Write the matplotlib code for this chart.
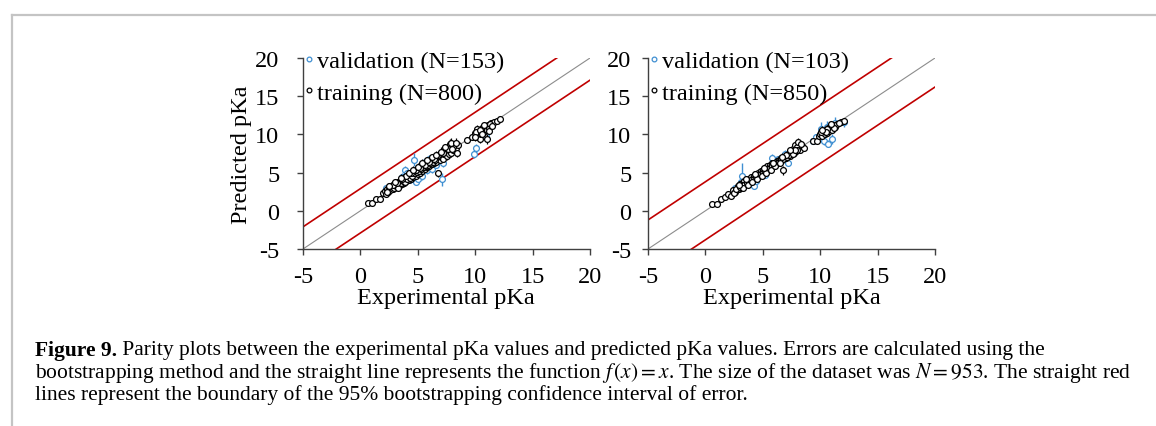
import matplotlib
matplotlib.use("Agg")
import matplotlib.pyplot as plt
from matplotlib.lines import Line2D

plt.rcParams['font.family'] = ['Liberation Serif', 'DejaVu Serif']
plt.rcParams['mathtext.fontset'] = 'stix'
plt.rcParams['axes.unicode_minus'] = False

# ---- data ----
# left panel, training (N=800)
train_x_a = [0.7, 1.0, 1.4, 1.7, 2.0, 2.1, 2.2, 2.3, 2.4, 2.5, 2.6, 2.7, 2.8, 2.9, 3.0, 3.1, 3.2, 3.3, 3.4, 3.5,
             3.6, 3.7, 3.8, 3.9, 4.0, 4.1, 4.2, 4.3, 4.4, 4.5, 4.6, 4.7, 4.8, 4.9, 5.0, 5.1, 5.2, 5.3, 5.4, 5.5,
             5.6, 5.7, 5.8, 5.9, 6.0, 6.1, 6.2, 6.3, 6.4, 6.5, 6.6, 6.8, 6.7, 6.9, 7.0, 7.2, 7.3, 7.5, 7.6, 7.7,
             7.8, 7.9, 8.0, 8.1, 8.2, 8.3, 8.4, 8.5, 9.3, 9.7, 10.0, 10.1, 10.2, 10.3, 10.4, 10.5, 10.6, 10.7, 10.8, 10.9,
             11.0, 11.0, 11.1, 11.2, 11.4, 11.6, 11.9, 12.2,
             2.3, 2.6, 2.9, 3.1, 3.3, 3.5, 3.7, 3.9, 4.1, 4.3, 4.5, 4.7, 4.9, 5.1, 5.3, 5.5, 5.7, 5.9, 6.1, 6.3,
             6.5, 6.8, 7.1, 7.4, 7.8, 8.1, 10.1, 10.5, 11.3,
             2.8, 3.2, 3.6, 4.0, 4.4, 4.8, 5.2, 5.6, 6.0, 6.4, 7.2, 7.6, 8.0, 10.4, 10.8,
             2.5, 3.0, 3.5, 4.2, 4.6, 5.0, 5.4, 5.8, 6.2, 6.6, 7.0, 7.4, 7.9, 8.3, 10.0, 10.6, 11.2, 11.5]
train_y_a = [1.0, 1.0, 1.6, 1.5, 2.3, 2.6, 2.2, 2.9, 2.5, 3.1, 2.7, 3.3, 2.9, 3.5, 3.1, 3.6, 3.2, 3.8, 3.3, 4.0,
             3.5, 4.2, 3.7, 4.4, 3.9, 4.5, 4.0, 4.7, 4.2, 5.0, 4.4, 5.2, 4.6, 5.4, 4.8, 5.6, 5.0, 5.9, 5.2, 6.0,
             5.5, 6.2, 5.7, 6.4, 5.9, 6.5, 6.1, 6.7, 6.2, 6.9, 6.4, 4.9, 6.9, 6.6, 7.1, 6.8, 7.4, 7.2, 7.8, 7.4,
             8.2, 7.6, 8.5, 7.9, 8.8, 8.2, 7.6, 8.6, 9.3, 9.6, 10.2, 9.7, 10.7, 10.0, 9.4, 10.5, 10.9, 10.2, 10.8, 11.0,
             9.4, 10.6, 11.2, 10.9, 11.5, 11.6, 11.8, 12.0,
             2.4, 3.2, 3.0, 3.3, 3.0, 3.6, 3.9, 3.8, 4.2, 4.3, 4.6, 4.9, 5.1, 5.2, 5.5, 5.7, 5.9, 6.0, 6.3, 6.4,
             6.6, 7.3, 7.6, 8.0, 8.8, 8.3, 10.3, 10.1, 11.3,
             3.4, 3.7, 4.1, 4.5, 4.9, 5.3, 5.6, 6.0, 6.4, 6.8, 7.6, 8.1, 8.1, 10.6, 11.2,
             3.3, 3.8, 4.3, 4.9, 5.4, 5.7, 6.3, 6.6, 7.0, 7.3, 7.7, 8.3, 8.9, 8.9, 9.6, 10.1, 10.5, 11.1]
train_e_a = [0.2, 0.2, 0.3, 0.2, 0.3, 0.3, 0.3, 0.3, 0.4, 0.3, 0.3, 0.4, 0.3, 0.4, 0.3, 0.4, 0.3, 0.4, 0.3, 0.4,
             0.3, 0.4, 0.3, 0.5, 0.3, 0.4, 0.3, 0.4, 0.3, 0.5, 0.3, 0.4, 0.3, 0.5, 0.4, 0.4, 0.3, 0.5, 0.4, 0.4,
             0.4, 0.5, 0.3, 0.5, 0.4, 0.4, 0.4, 0.5, 0.4, 0.5, 0.4, 0.5, 0.4, 0.4, 0.5, 0.4, 0.4, 0.5, 0.6, 0.4,
             0.6, 0.5, 0.6, 0.5, 0.5, 0.6, 0.5, 0.5, 0.3, 0.3, 0.5, 0.4, 0.5, 0.4, 0.5, 0.4, 0.5, 0.4, 0.5, 0.4,
             0.6, 0.4, 0.4, 0.4, 0.3, 0.3, 0.3, 0.3,
             0.3, 0.4, 0.3, 0.4, 0.3, 0.4, 0.4, 0.3, 0.4, 0.3, 0.4, 0.4, 0.4, 0.3, 0.4, 0.4, 0.4, 0.3, 0.4, 0.4,
             0.4, 0.5, 0.5, 0.5, 0.6, 0.5, 0.4, 0.4, 0.3,
             0.4, 0.4, 0.4, 0.4, 0.4, 0.4, 0.4, 0.4, 0.4, 0.5, 0.5, 0.5, 0.6, 0.4, 0.4,
             0.4, 0.4, 0.5, 0.5, 0.5, 0.5, 0.5, 0.5, 0.5, 0.5, 0.6, 0.5, 0.6, 0.6, 0.5, 0.5, 0.5, 0.4]

# left panel, validation (N=153)
val_x_a = [2.2, 3.0, 3.6, 3.9, 4.1, 4.4, 4.7, 4.8, 5.0, 5.4, 5.6, 5.8, 6.0, 6.2, 6.6, 7.1, 7.2, 9.9, 10.1, 10.9]
val_y_a = [3.0, 3.6, 4.4, 5.3, 5.0, 4.1, 6.7, 3.8, 4.2, 4.5, 6.4, 5.3, 6.8, 5.5, 6.0, 4.1, 6.3, 7.4, 8.2, 9.8]
val_e_a = [0.3, 0.4, 0.5, 0.6, 0.5, 0.4, 0.9, 0.4, 0.4, 0.5, 0.5, 0.5, 0.5, 0.5, 0.4, 0.9, 0.6, 0.5, 0.6, 0.6]

# right panel, training (N=850)
train_x_b = [0.6, 1.0, 1.4, 1.7, 2.0, 2.2, 2.4, 2.6, 2.8, 2.9, 3.0, 3.1, 3.2, 3.3, 3.4, 3.5, 3.6, 3.7, 3.8, 3.9,
             4.0, 4.1, 4.2, 4.3, 4.4, 4.5, 4.6, 4.7, 4.8, 4.9, 5.0, 5.1, 5.2, 5.3, 5.4, 5.5, 5.6, 5.7, 5.8, 5.9,
             6.0, 6.1, 6.2, 6.3, 6.4, 6.5, 6.6, 6.7, 6.8, 6.9, 7.0, 7.2, 7.4, 7.5, 7.6, 7.7, 7.8, 7.9, 8.0, 8.1,
             8.2, 8.4, 8.6, 9.4, 9.7, 9.9, 10.0, 10.2, 10.3, 10.4, 10.5, 10.6, 10.7, 10.8, 10.9, 11.0, 11.1, 11.3, 11.5, 11.8,
             12.1,
             2.5, 2.7, 3.0, 3.2, 3.4, 3.6, 3.8, 4.0, 4.2, 4.4, 4.6, 4.8, 5.0, 5.2, 5.4, 5.6, 5.8, 6.0, 6.2, 6.4,
             6.6, 6.8, 7.1, 7.3, 7.6, 8.0, 10.1, 10.6,
             3.3, 3.7, 4.1, 4.5, 4.9, 5.3, 5.7, 6.1, 6.5, 7.0, 7.8, 10.5, 11.2,
             2.9, 3.5, 4.3, 5.1, 5.9, 6.7, 7.4, 8.3, 10.2, 10.9, 11.6]
train_y_b = [0.9, 0.9, 1.5, 1.8, 2.2, 2.0, 2.7, 2.5, 3.2, 2.8, 3.5, 3.0, 3.7, 3.3, 3.9, 3.5, 4.0, 3.7, 4.2, 3.9,
             4.4, 4.1, 4.6, 4.3, 4.8, 4.5, 5.0, 4.7, 5.2, 4.9, 5.4, 5.1, 5.6, 5.3, 5.8, 5.5, 6.0, 5.7, 6.2, 5.9,
             6.3, 6.1, 6.5, 6.3, 6.7, 6.5, 6.9, 6.7, 5.3, 7.1, 6.9, 7.4, 7.2, 7.7, 8.1, 7.6, 8.6, 7.8, 8.3, 9.0,
             8.0, 8.5, 8.2, 9.1, 9.2, 9.8, 10.1, 9.8, 10.4, 10.0, 10.6, 10.2, 10.9, 10.5, 11.0, 10.6, 11.2, 11.0, 11.3, 11.6,
             11.8,
             2.3, 2.9, 3.1, 3.4, 3.4, 3.6, 3.8, 4.0, 4.2, 4.4, 4.6, 4.8, 5.0, 5.2, 5.4, 5.6, 5.8, 6.0, 6.2, 6.4,
             6.6, 6.8, 7.0, 7.3, 7.5, 7.9, 10.3, 10.7,
             3.0, 3.4, 3.8, 4.2, 4.6, 5.0, 5.4, 5.8, 6.2, 7.3, 8.0, 10.3, 10.9,
             3.4, 4.1, 4.8, 5.6, 6.3, 7.1, 7.9, 8.7, 10.6, 11.3, 11.5]
train_e_b = [0.2, 0.2, 0.3, 0.3, 0.3, 0.3, 0.3, 0.3, 0.4, 0.3, 0.4, 0.3, 0.4, 0.3, 0.4, 0.3, 0.4, 0.3, 0.4, 0.3,
             0.4, 0.3, 0.5, 0.3, 0.4, 0.3, 0.5, 0.3, 0.4, 0.3, 0.5, 0.3, 0.4, 0.3, 0.5, 0.4, 0.4, 0.3, 0.5, 0.3,
             0.4, 0.3, 0.4, 0.3, 0.5, 0.4, 0.4, 0.3, 0.6, 0.4, 0.4, 0.4, 0.4, 0.5, 0.6, 0.4, 0.5, 0.4, 0.5, 0.5,
             0.4, 0.4, 0.4, 0.4, 0.4, 0.4, 0.5, 0.4, 0.5, 0.4, 0.5, 0.4, 0.4, 0.4, 0.5, 0.4, 0.4, 0.4, 0.4, 0.3,
             0.4,
             0.3, 0.3, 0.3, 0.3, 0.3, 0.3, 0.3, 0.3, 0.3, 0.3, 0.3, 0.3, 0.3, 0.3, 0.3, 0.3, 0.3, 0.3, 0.3, 0.3,
             0.3, 0.3, 0.3, 0.3, 0.4, 0.4, 0.4, 0.4,
             0.3, 0.3, 0.3, 0.3, 0.3, 0.3, 0.3, 0.3, 0.3, 0.4, 0.4, 0.4, 0.4,
             0.4, 0.4, 0.4, 0.4, 0.4, 0.5, 0.5, 0.5, 0.5, 0.5, 0.4]

# right panel, validation (N=103)
val_x_b = [2.6, 3.1, 3.2, 3.5, 4.2, 4.4, 5.2, 5.8, 6.3, 6.9, 7.2, 9.4, 9.6, 10.1, 10.3, 10.6, 10.7, 11.0, 11.3, 12.1]
val_y_b = [3.0, 3.8, 4.5, 3.7, 3.3, 3.9, 4.7, 6.9, 6.8, 7.4, 6.3, 9.1, 9.6, 10.7, 9.1, 11.0, 8.8, 9.4, 11.5, 11.6]
val_e_b = [0.3, 0.4, 1.8, 0.4, 0.4, 0.4, 0.4, 0.5, 0.4, 0.5, 0.5, 0.4, 0.5, 0.9, 0.5, 0.7, 0.5, 0.6, 0.8, 0.6]

# confidence boundary offsets (red lines) and axis range
ci_a = 2.9
ci_b = 3.8
lims = [-5, 20]
ticks = [-5, 0, 5, 10, 15, 20]
n_val = [153, 103]
n_train = [800, 850]

blue = '#3f8fd2'
red = '#c00000'
axcol = '#404040'
fs = 17.5
ms = 4.2

fig = plt.figure(figsize=(11.56, 4.27), dpi=100)


def draw_panel(ax, tx, ty, te, vx, vy, ve, ci, nv, nt, ypad):
    ax.set_xlim(lims)
    ax.set_ylim(lims)
    ax.plot(lims, lims, color='#8c8c8c', lw=0.8, zorder=1)
    ax.plot(lims, [lims[0] + ci, lims[1] + ci], color=red, lw=1.2, zorder=1)
    ax.plot(lims, [lims[0] - ci, lims[1] - ci], color=red, lw=1.2, zorder=1)
    ax.errorbar(vx, vy, yerr=ve, fmt='o', ms=ms, mfc='white', mec=blue, mew=0.9,
                ecolor=blue, elinewidth=1.0, capsize=0, zorder=2)
    ax.errorbar(tx, ty, yerr=te, fmt='o', ms=ms, mfc='white', mec='black', mew=0.9,
                ecolor='black', elinewidth=0.9, capsize=0, zorder=3)
    for s in ['top', 'right']:
        ax.spines[s].set_visible(False)
    for s in ['left', 'bottom']:
        ax.spines[s].set_color(axcol)
        ax.spines[s].set_linewidth(1.0)
    ax.set_xticks(ticks)
    ax.set_yticks(ticks)
    ax.tick_params(axis='both', direction='out', length=4, width=1.0, color=axcol, labelsize=fs)
    ax.tick_params(axis='y', pad=ypad)
    ax.tick_params(axis='x', pad=8)
    ax.patch.set_alpha(0)
    h1 = Line2D([], [], ls='none', marker='o', ms=3.4, mfc='white', mec=blue, mew=0.9)
    h2 = Line2D([], [], ls='none', marker='o', ms=3.4, mfc='white', mec='black', mew=0.9)
    ax.legend([h1, h2], ['validation (N={})'.format(nv), 'training (N={})'.format(nt)],
              loc='upper left', bbox_to_anchor=(0.005, 1.04), frameon=False, fontsize=fs,
              handlelength=0.4, handletextpad=0.12, labelspacing=0.38, borderpad=0.0,
              borderaxespad=0.0)


ax1 = fig.add_axes([303 / 1156, 1 - 250 / 427, 287 / 1156, 191 / 427])
draw_panel(ax1, train_x_a, train_y_a, train_e_a, val_x_a, val_y_a, val_e_a, ci_a, n_val[0], n_train[0], 13)
ax2 = fig.add_axes([648 / 1156, 1 - 250 / 427, 287 / 1156, 191 / 427])
draw_panel(ax2, train_x_b, train_y_b, train_e_b, val_x_b, val_y_b, val_e_b, ci_b, n_val[1], n_train[1], 8)

fig.text(446 / 1156, 1 - 299 / 427, 'Experimental pKa', ha='center', va='center', fontsize=fs)
fig.text(792 / 1156, 1 - 299 / 427, 'Experimental pKa', ha='center', va='center', fontsize=fs)
fig.text(242 / 1156, 1 - 155 / 427, 'Predicted pKa', ha='center', va='center', rotation=90, fontsize=fs)

# caption
cfs = 15.5
x0 = 35 / 1156
t_bold = fig.text(x0, 1 - 351 / 427, 'Figure 9.', fontweight='bold', fontsize=cfs, va='center')
fig.canvas.draw()
bb = t_bold.get_window_extent()
fig.text(bb.x1 / fig.bbox.width, 1 - 351 / 427,
         ' Parity plots between the experimental pKa values and predicted pKa values. '
         'Errors are calculated using the', fontsize=cfs, va='center')
fig.text(x0, 1 - 373 / 427,
         'bootstrapping method and the straight line represents the function $f\\,(x) = x$. '
         'The size of the dataset was $N = 953$. The straight red', fontsize=cfs, va='center')
fig.text(x0, 1 - 395 / 427,
         'lines represent the boundary of the 95% bootstrapping confidence interval of error.',
         fontsize=cfs, va='center')

# light frame around the figure
fig.add_artist(Line2D([12 / 1156, 12 / 1156], [1 - 16 / 427, 0], transform=fig.transFigure,
                      color='#c4c4c4', lw=1.6))
fig.add_artist(Line2D([12 / 1156, 1], [1 - 16 / 427, 1 - 16 / 427], transform=fig.transFigure,
                      color='#c4c4c4', lw=1.6))

fig.savefig('out.png', dpi=100)
